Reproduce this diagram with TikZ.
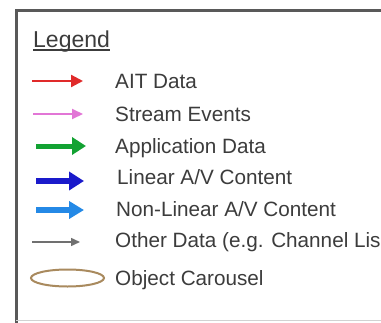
\documentclass[tikz,border=0pt]{standalone}
\usepackage{fontspec}
\setmainfont{Liberation Sans}
\usepackage{tikz}
\usetikzlibrary{arrows.meta}
\usetikzlibrary{positioning}
\definecolor{aitred}{HTML}{E02A2A}
\definecolor{streampink}{HTML}{E276D6}
\definecolor{appgreen}{HTML}{12A232}
\definecolor{lineblue}{HTML}{1A1ACB}
\definecolor{nonlinblue}{HTML}{2489E6}
\definecolor{othergray}{HTML}{707070}
\definecolor{carouseltan}{HTML}{A98A5E}
\definecolor{legendtext}{HTML}{3C3C3C}
\tikzset{%
    aitdata/.style={draw=aitred, line width=2.2pt, -{Triangle[length=12pt,width=12pt]}},
    streamevents/.style={draw=streampink, line width=2pt, -{Triangle[length=11pt,width=10pt]}},
    appdata/.style={draw=appgreen, line width=5pt, -{Triangle[length=14pt,width=17pt]}},
    linearav/.style={draw=lineblue, line width=5.5pt, -{Triangle[length=15pt,width=18pt]}},
    nonlinearav/.style={draw=nonlinblue, line width=5.5pt, -{Triangle[length=15pt,width=17pt]}}
}
\tikzset{otherdata/.style={draw=othergray, line width=1.5pt, -{Triangle[length=9pt,width=8pt]}}}
\tikzset{carousel/.style={draw=carouseltan, line width=2pt}}

\begin{document}
\begin{tikzpicture}[x=1pt,y=-1pt]
		% Default action for each node
		\tikzstyle{every node}=[inner sep=0pt, anchor=base west, text=legendtext, font=\fontsize{20.7}{24}\selectfont];

		\clip (0,0) rectangle (381,322);
		\fill[white] (0,0) rectangle (381,322);

		% frame of the legend box
		\draw[gray!70!black, line width=3pt] (16,330) -- (16,10.5) -- (400,10.5);
		\draw[gray!35, line width=1pt] (16,320) -- (400,320);

		\node (title) at (33,47) {\fontsize{23}{26}\selectfont Legend};
		\draw[legendtext, line width=1.2pt] ([yshift=-3pt]title.base west) -- ([yshift=-3pt]title.base east);

		\coordinate (aitL) at (32,81);		\coordinate (aitR) at (83,81);		\node (ait) at (115,88) {AIT Data};
		\coordinate (streamL) at (33,114);	\coordinate (streamR) at (83,114);	\node (stream) at (115,121) {Stream Events};
		\coordinate (appL) at (36,146);		\coordinate (appR) at (86,146);		\node (app) at (115,153) {Application Data};
		\coordinate (linL) at (36,181);		\coordinate (linR) at (84,181);		\node (lin) at (117,184) {Linear A/V Content};
		\coordinate (nonlinL) at (36,210);	\coordinate (nonlinR) at (84,210);	\node (nonlin) at (116,216) {Non-Linear A/V Content};
		\coordinate (otherL) at (32,242);	\coordinate (otherR) at (80,242);	\node (other) at (115,247) {Other Data (e.g. Channel Lis};
		\coordinate (oc) at (67.5,278);												\node (objcar) at (115,285) {Object Carousel};

		\draw[aitdata] (aitL) -- (aitR);
		\draw[streamevents] (streamL) -- (streamR);
		\draw[appdata] (appL) -- (appR);
		\draw[linearav] (linL) -- (linR);
		\draw[nonlinearav] (nonlinL) -- (nonlinR);
		\draw[otherdata] (otherL) -- (otherR);
		\draw[carousel] (oc) ellipse (36.5pt and 8.5pt);

	\end{tikzpicture}
\end{document}
